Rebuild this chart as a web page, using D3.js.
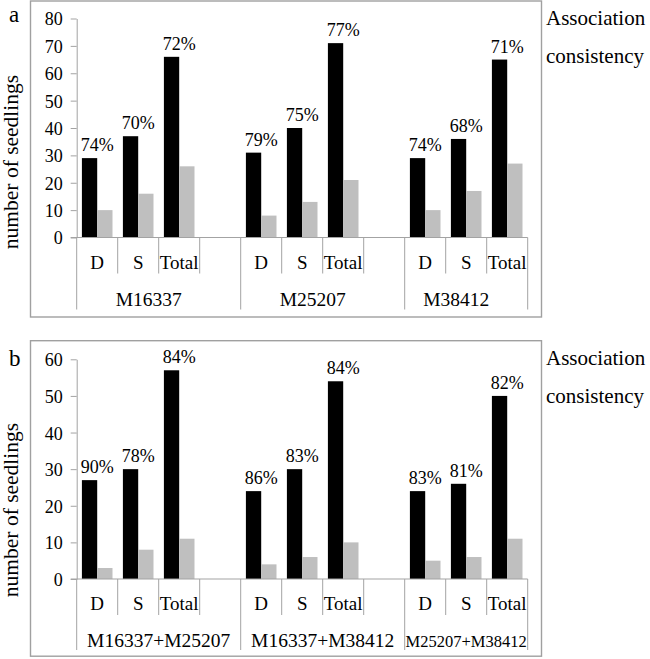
<!DOCTYPE html>
<html>
<head>
<meta charset="utf-8">
<script src="https://cdn.jsdelivr.net/npm/d3@7"></script>
<style>
  html, body { margin: 0; padding: 0; background: #fff; }
  svg { display: block; }
  svg text { font-family: "Liberation Serif", "Times New Roman", "DejaVu Serif", serif !important; fill: #000; }
</style>
</head>
<body>
<script>
// ---------------- DATA ----------------
const subCategories = ["D", "S", "Total"];

const groupsA = ["M16337", "M25207", "M38412"];
const consistentA = [29, 37, 66, 31, 40, 71, 29, 36, 65];
const inconsistentA = [10, 16, 26, 8, 13, 21, 10, 17, 27];
const consistencyA = ["74%", "70%", "72%", "79%", "75%", "77%", "74%", "68%", "71%"];
const yTicksA = [0, 10, 20, 30, 40, 50, 60, 70, 80];

const groupsB = ["M16337+M25207", "M16337+M38412", "M25207+M38412"];
const consistentB = [27, 30, 57, 24, 30, 54, 24, 26, 50];
const inconsistentB = [3, 8, 11, 4, 6, 10, 5, 6, 11];
const consistencyB = ["90%", "78%", "84%", "86%", "83%", "84%", "83%", "81%", "82%"];
const yTicksB = [0, 10, 20, 30, 40, 50, 60];

const yTitle = "number of seedlings";
const sideTitle = ["Association", "consistency"];

// ---------------- DRAW ----------------
const W = 650, H = 659;
const FONT = '"Liberation Serif", "Times New Roman", "DejaVu Serif", serif';
const AXIS = "#a3a3a3";
const GRAY = "#bfbfbf";

const svg = d3.select("body").append("svg")
  .attr("width", W).attr("height", H)
  .attr("font-family", FONT);

function panel(o) {
  const g = svg.append("g").attr("font-family", FONT);

  // frame
  g.append("rect")
    .attr("x", o.fx).attr("y", o.fy).attr("width", o.fw).attr("height", o.fh)
    .attr("fill", "none").attr("stroke", "#a0a0a0").attr("stroke-width", 1.4);

  // slots (D,S,Total + spacer between groups)
  const slots = [], rows = [], groupMembers = [];
  o.groups.forEach((gn, gi) => {
    const members = [];
    subCategories.forEach((s, si) => {
      const id = gi + "-" + si;
      slots.push(id); members.push(id);
      const k = gi * subCategories.length + si;
      rows.push({ id, sub: s, c: o.cons[k], i: o.incons[k], pct: o.pct[k] });
    });
    if (gi < o.groups.length - 1) { const id = gi + "-sp"; slots.push(id); members.push(id); }
    groupMembers.push(members);
  });

  const x = d3.scaleBand().domain(slots).range([o.x0, o.x1]);
  const y = d3.scaleLinear().domain([0, d3.max(o.ticks)]).range([o.base, o.ytop]);
  const inner = d3.scaleBand().domain(["c", "i"]).range([0, x.bandwidth()]).paddingOuter(0.34);

  // y axis
  const ya = g.append("g").attr("transform", `translate(${o.x0},0)`)
    .call(d3.axisLeft(y).tickValues(o.ticks).tickSize(6).tickSizeOuter(0).tickPadding(8));
  ya.attr("font-family", FONT).attr("font-size", o.tickFont);
  ya.select(".domain").attr("stroke", AXIS);
  ya.selectAll(".tick line").attr("stroke", AXIS);
  ya.selectAll(".tick text").attr("fill", "#000").attr("dy", "0.36em");

  // bars
  g.selectAll("rect.cb").data(rows).join("rect").attr("class", "cb")
    .attr("x", d => x(d.id) + inner("c")).attr("width", inner.bandwidth())
    .attr("y", d => y(d.c)).attr("height", d => y(0) - y(d.c)).attr("fill", "#000");
  g.selectAll("rect.ib").data(rows).join("rect").attr("class", "ib")
    .attr("x", d => x(d.id) + inner("i")).attr("width", inner.bandwidth())
    .attr("y", d => y(d.i)).attr("height", d => y(0) - y(d.i)).attr("fill", GRAY);

  // percent labels
  g.selectAll("text.pct").data(rows).join("text").attr("class", "pct")
    .attr("x", d => x(d.id) + x.bandwidth() / 2)
    .attr("y", d => y(d.c) - 7)
    .attr("text-anchor", "middle").attr("font-size", o.pctFont).text(d => d.pct);

  // category axis baseline
  g.append("line").attr("x1", o.x0 - 6).attr("x2", o.x1)
    .attr("y1", o.base).attr("y2", o.base).attr("stroke", AXIS);

  // dividers
  const groupStarts = new Set(groupMembers.map(m => m[0]));
  const bounds = slots.map(s => ({ xv: x(s), long: groupStarts.has(s) }));
  bounds.push({ xv: o.x1, long: true });
  g.selectAll("line.div").data(bounds).join("line").attr("class", "div")
    .attr("x1", d => d.xv).attr("x2", d => d.xv)
    .attr("y1", o.base).attr("y2", d => o.base + (d.long ? o.longTick : o.shortTick))
    .attr("stroke", AXIS);

  // sub-category labels
  g.selectAll("text.sub").data(rows).join("text").attr("class", "sub")
    .attr("x", d => x(d.id) + x.bandwidth() / 2).attr("y", o.base + o.subDy)
    .attr("text-anchor", "middle").attr("font-size", o.subFont).text(d => d.sub);

  // group labels
  g.selectAll("text.grp").data(o.groups).join("text").attr("class", "grp")
    .attr("x", (d, i) => {
      const m = groupMembers[i];
      const a = x(m[0]), b = x(m[m.length - 1]) + x.bandwidth();
      return (a + b) / 2 + o.groupDx;
    })
    .attr("y", o.base + o.groupDy)
    .attr("text-anchor", "middle")
    .attr("font-size", (d, i) => o.groupFonts[i]).text(d => d);

  // panel letter
  g.append("text").attr("x", 9).attr("y", o.letterY).attr("font-size", 23).text(o.letter);

  // y title
  g.append("text").attr("transform", `translate(18,${o.titleY}) rotate(-90)`)
    .attr("text-anchor", "middle").attr("font-size", 21.5).text(yTitle);

  // side title
  g.selectAll("text.side").data(sideTitle).join("text").attr("class", "side")
    .attr("x", 546).attr("y", (d, i) => o.sideY + i * 38)
    .attr("font-size", 21).text(d => d);
}

panel({
  groups: groupsA, cons: consistentA, incons: inconsistentA, pct: consistencyA, ticks: yTicksA,
  fx: 30.5, fy: 1, fw: 511, fh: 316,
  x0: 76.7, x1: 527.7, base: 237.5, ytop: 18.5,
  tickFont: 18, pctFont: 18, subFont: 19, groupFonts: [19.5, 19.5, 19.5],
  subDy: 31, groupDy: 68, shortTick: 36, longTick: 72, groupDx: -10,
  letter: "a", letterY: 22, titleY: 162, sideY: 25
});

panel({
  groups: groupsB, cons: consistentB, incons: inconsistentB, pct: consistencyB, ticks: yTicksB,
  fx: 30.5, fy: 340.7, fw: 511, fh: 315.5,
  x0: 76.7, x1: 527.7, base: 579, ytop: 359.3,
  tickFont: 18, pctFont: 18, subFont: 19, groupFonts: [19.5, 19.5, 16.5],
  subDy: 31, groupDy: 67.7, shortTick: 36, longTick: 71, groupDx: 0,
  letter: "b", letterY: 366, titleY: 510, sideY: 365
});
</script>
</body>
</html>
